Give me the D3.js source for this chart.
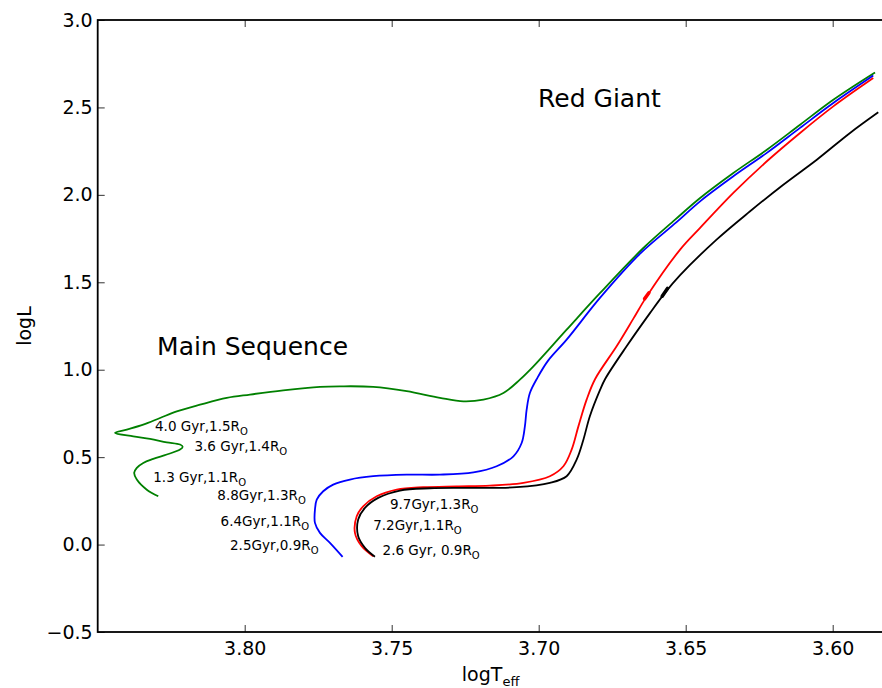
<!DOCTYPE html>
<html>
<head>
<meta charset="utf-8">
<script src="https://d3js.org/d3.v7.min.js"></script>
<style>
  html, body { margin: 0; padding: 0; background: #fff; }
  svg { display: block; font-family: "DejaVu Sans", sans-serif; }
</style>
</head>
<body>
<svg id="chart" width="882" height="688"></svg>
<script>
// ---------- data (logTeff, logL) ----------
const xTicks = [3.80, 3.75, 3.70, 3.65, 3.60];
const yTicks = [-0.5, 0.0, 0.5, 1.0, 1.5, 2.0, 2.5, 3.0];

const greenTrack = [
  [3.8294,0.276],[3.8333,0.314],[3.8367,0.372],[3.8376,0.410],[3.8367,0.439],
  [3.8345,0.467],[3.8311,0.490],[3.8265,0.515],[3.8220,0.543],[3.8211,0.559],
  [3.8220,0.572],[3.8265,0.585],[3.8322,0.604],[3.8379,0.619],[3.8441,0.639],
  [3.8401,0.658],[3.8345,0.686],[3.8288,0.724],[3.8231,0.762],[3.8152,0.800],
  [3.8061,0.839],[3.7982,0.858],[3.7869,0.882],[3.7744,0.902],[3.7676,0.905],
  [3.7563,0.902],[3.7449,0.877],[3.7336,0.839],[3.7256,0.819],[3.7188,0.829],
  [3.7120,0.867],[3.7064,0.943],[3.7018,1.019],[3.6905,1.229],[3.6791,1.439],
  [3.6644,1.696],[3.6536,1.858],[3.6451,1.982],[3.6338,2.125],[3.6224,2.258],
  [3.6111,2.401],[3.5998,2.544],[3.5856,2.700]
];
const blueTrack = [
  [3.7667,-0.070],[3.7710,0.010],[3.7744,0.067],[3.7761,0.124],[3.7761,0.200],
  [3.7755,0.257],[3.7733,0.305],[3.7699,0.343],[3.7642,0.372],[3.7563,0.391],
  [3.7449,0.400],[3.7336,0.400],[3.7222,0.413],[3.7143,0.448],[3.7086,0.505],
  [3.7058,0.581],[3.7047,0.676],[3.7041,0.772],[3.7030,0.867],[3.7004,0.955],
  [3.6968,1.052],[3.6905,1.172],[3.6791,1.412],[3.6655,1.664],[3.6531,1.844],
  [3.6451,1.963],[3.6338,2.106],[3.6224,2.240],[3.6111,2.383],[3.5998,2.525],
  [3.5862,2.682]
];
const redTrack = [
  [3.7563,-0.067],[3.7602,-0.010],[3.7625,0.067],[3.7619,0.162],[3.7597,0.219],
  [3.7551,0.276],[3.7483,0.314],[3.7393,0.328],[3.7279,0.333],[3.7166,0.337],
  [3.7052,0.353],[3.6962,0.391],[3.6916,0.448],[3.6888,0.543],[3.6865,0.676],
  [3.6837,0.829],[3.6808,0.947],[3.6735,1.134],[3.6678,1.292],[3.6633,1.418],
  [3.6519,1.687],[3.6451,1.811],[3.6338,2.011],[3.6224,2.192],[3.6111,2.354],
  [3.5998,2.506],[3.5862,2.668]
];
const blackTrack = [
  [3.7557,-0.070],[3.7591,-0.019],[3.7614,0.047],[3.7614,0.143],[3.7591,0.210],
  [3.7546,0.267],[3.7472,0.309],[3.7370,0.322],[3.7222,0.324],[3.7075,0.328],
  [3.6962,0.353],[3.6905,0.391],[3.6871,0.486],[3.6848,0.600],[3.6826,0.734],
  [3.6791,0.886],[3.6774,0.947],[3.6701,1.134],[3.6621,1.325],[3.6570,1.441],
  [3.6519,1.541],[3.6395,1.744],[3.6281,1.906],[3.6168,2.058],[3.6054,2.201],
  [3.5941,2.354],[3.5845,2.472]
];

const trackNames  = ["green", "blue", "red", "black"];
const trackColors = ["#008000", "#0000ff", "#ff0000", "#000000"];
const tracks      = [greenTrack, blueTrack, redTrack, blackTrack];

// short thicker glitch segments on the red and black tracks: [t1, L1, t2, L2, track index]
const glitches = [
  [3.6640, 1.405, 3.6625, 1.440, 2],
  [3.6580, 1.420, 3.6562, 1.465, 3]
];

// annotation labels: [logTeff, logL, main text, subscript]
const labels = [
  [3.8305, 0.652, "4.0 Gyr,1.5R", "O"],
  [3.8171, 0.537, "3.6 Gyr,1.4R", "O"],
  [3.8311, 0.360, "1.3 Gyr,1.1R", "O"],
  [3.8093, 0.257, "8.8Gyr,1.3R", "O"],
  [3.8082, 0.109, "6.4Gyr,1.1R", "O"],
  [3.8050, -0.029, "2.5Gyr,0.9R", "O"],
  [3.7506, 0.206, "9.7Gyr,1.3R", "O"],
  [3.7563, 0.086, "7.2Gyr,1.1R", "O"],
  [3.7531, -0.057, "2.6 Gyr, 0.9R", "O"]
];
const regionLabels = [
  [3.8298, 1.086, "Main Sequence"],
  [3.7002, 2.504, "Red Giant"]
];

// ---------- layout ----------
const svg = d3.select("#chart");
const pLeft = 97.7, pRight = 891.5, pTop = 20, pBottom = 632;
const x = d3.scaleLinear().domain([3.85, 3.58]).range([pLeft, pRight]);
const y = d3.scaleLinear().domain([-0.5, 3.0]).range([pBottom, pTop]);

svg.append("rect").attr("width", 882).attr("height", 688).attr("fill", "#fff");

svg.append("clipPath").attr("id", "clip")
  .append("rect").attr("x", pLeft).attr("y", pTop)
  .attr("width", pRight - pLeft).attr("height", pBottom - pTop);

// tracks
const line = d3.line().x(d => x(d[0])).y(d => y(d[1])).curve(d3.curveCatmullRom.alpha(0.5));
const g = svg.append("g").attr("clip-path", "url(#clip)");
tracks.forEach((t, i) => {
  g.append("path").datum(t)
    .attr("d", line)
    .attr("fill", "none")
    .attr("stroke", trackColors[i])
    .attr("stroke-width", 1.8)
    .attr("stroke-linejoin", "round");
});
glitches.forEach(d => {
  g.append("line")
    .attr("x1", x(d[0])).attr("y1", y(d[1]))
    .attr("x2", x(d[2])).attr("y2", y(d[3]))
    .attr("stroke", trackColors[d[4]]).attr("stroke-width", 3.5)
    .attr("stroke-linecap", "round");
});

// axes
const fmtY = d => (d < 0 ? "\u2212" + Math.abs(d).toFixed(1) : d.toFixed(1));
const xAxis = svg.append("g").attr("transform", `translate(0,${pBottom})`)
  .call(d3.axisBottom(x).tickValues(xTicks).tickFormat(d3.format(".2f")).tickSize(-7).tickPadding(10));
const xAxisTop = svg.append("g").attr("transform", `translate(0,${pTop})`)
  .call(d3.axisTop(x).tickValues(xTicks).tickFormat("").tickSize(-7));
const yAxis = svg.append("g").attr("transform", `translate(${pLeft},0)`)
  .call(d3.axisLeft(y).tickValues(yTicks).tickFormat(fmtY).tickSize(-7).tickPadding(5));

[xAxis, xAxisTop, yAxis].forEach(a => {
  a.select(".domain").remove();
  a.selectAll(".tick line").attr("stroke", "#333").attr("stroke-width", 1);
  a.selectAll(".tick text").attr("font-size", 19).attr("fill", "#000")
    .attr("font-family", "DejaVu Sans, sans-serif");
});

// frame
svg.append("rect").attr("x", pLeft).attr("y", pTop)
  .attr("width", pRight - pLeft).attr("height", pBottom - pTop)
  .attr("fill", "none").attr("stroke", "#000").attr("stroke-width", 1.8);

// axis titles
const xt = svg.append("text").attr("x", (pLeft + pRight) / 2 - 4).attr("y", 681)
  .attr("text-anchor", "middle").attr("font-size", 19);
xt.append("tspan").text("logT");
xt.append("tspan").attr("dy", 5).attr("font-size", 13).text("eff");

svg.append("text").attr("transform", `translate(31,${(pTop + pBottom) / 2}) rotate(-90)`)
  .attr("text-anchor", "middle").attr("font-size", 19).text("logL");

// region labels
regionLabels.forEach(d => {
  svg.append("text").attr("x", x(d[0])).attr("y", y(d[1]))
    .attr("font-size", 25).attr("fill", "#000").text(d[2]);
});

// annotations
labels.forEach(d => {
  const t = svg.append("text").attr("x", x(d[0])).attr("y", y(d[1]))
    .attr("font-size", 13.5).attr("fill", "#000");
  t.append("tspan").text(d[2]);
  t.append("tspan").attr("dy", 4).attr("font-size", 10).text(d[3]);
});
</script>
</body>
</html>
